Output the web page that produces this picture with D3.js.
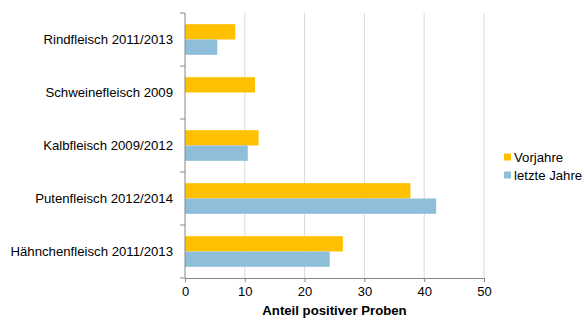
<!DOCTYPE html>
<html><head><meta charset="utf-8">
<script src="https://cdn.jsdelivr.net/npm/d3@7"></script>
<style>body{margin:0;background:#fff}svg{display:block;font-family:"Liberation Sans",Arial,sans-serif}</style>
</head><body><svg id="c" width="584" height="320"></svg>
<script>
const categories = ["Rindfleisch 2011/2013","Schweinefleisch 2009","Kalbfleisch 2009/2012","Putenfleisch 2012/2014","Hähnchenfleisch 2011/2013"];
const vorjahre = [8.4, 11.7, 12.3, 37.7, 26.4];
const letzteJahre = [5.4, null, 10.5, 42.0, 24.2];
const seriesNames = ["Vorjahre","letzte Jahre"];
const colors = ["#FFC000","#8FBEDB"];
const xTicks = [0,10,20,30,40,50];
const axisTitle = "Anteil positiver Proben";

const svg = d3.select("#c");
const m = {left:185, right:484, top:13, bottom:278};
const x = d3.scaleLinear().domain([0,50]).range([m.left,m.right]);
const y = d3.scaleBand().domain(categories).range([m.top,m.bottom]);
const inner = d3.scaleBand().domain(seriesNames).range([0,y.bandwidth()]).paddingOuter(0.73).paddingInner(0);

// gridlines
svg.append("g").selectAll("line").data(xTicks.slice(1)).join("line")
  .attr("x1",d=>x(d)).attr("x2",d=>x(d)).attr("y1",m.top).attr("y2",m.bottom)
  .attr("stroke","#d9d9d9").attr("stroke-width",1);

const data = [vorjahre, letzteJahre];
data.forEach((vals,si)=>{
  svg.append("g").selectAll("rect").data(categories.map((c,i)=>({c,v:vals[i]})).filter(d=>d.v!=null)).join("rect")
    .attr("x",x(0)).attr("y",d=>y(d.c)+inner(seriesNames[si]))
    .attr("width",d=>x(d.v)-x(0)).attr("height",inner.bandwidth())
    .attr("fill",colors[si]);
});

// x axis
const xa = svg.append("g").attr("transform",`translate(0,${m.bottom})`)
  .call(d3.axisBottom(x).tickValues(xTicks).tickSize(4).tickPadding(5));
xa.select(".domain").attr("stroke","#868686");
xa.selectAll(".tick line").attr("stroke","#868686");
xa.selectAll("text").attr("font-size","13px").attr("fill","#000").attr("font-family","Liberation Sans, Arial, sans-serif");

// y axis line and ticks at band boundaries
svg.append("line").attr("x1",x(0)).attr("x2",x(0)).attr("y1",m.top).attr("y2",m.bottom).attr("stroke","#868686");
const bounds = categories.map(c=>y(c)).concat([m.bottom]);
svg.append("g").selectAll("line").data(bounds).join("line")
  .attr("x1",x(0)-5).attr("x2",x(0)).attr("y1",d=>d).attr("y2",d=>d).attr("stroke","#868686");

svg.append("g").selectAll("text").data(categories).join("text")
  .attr("x",173).attr("y",d=>y(d)+y.bandwidth()/2).attr("dy","0.35em")
  .attr("text-anchor","end").attr("font-size","13.2px").attr("fill","#000").text(d=>d);

svg.append("text").attr("x",(m.left+m.right)/2).attr("y",315)
  .attr("text-anchor","middle").attr("font-size","13.2px").attr("font-weight","bold").text(axisTitle);

// legend
const lg = svg.append("g").selectAll("g").data(seriesNames).join("g")
  .attr("transform",(d,i)=>`translate(504,${157+i*18})`);
lg.append("rect").attr("x",0).attr("y",-3.5).attr("width",7).attr("height",7).attr("fill",(d,i)=>colors[i]);
lg.append("text").attr("x",10).attr("y",0).attr("dy","0.35em").attr("font-size","13.2px").text(d=>d);
</script></body></html>
